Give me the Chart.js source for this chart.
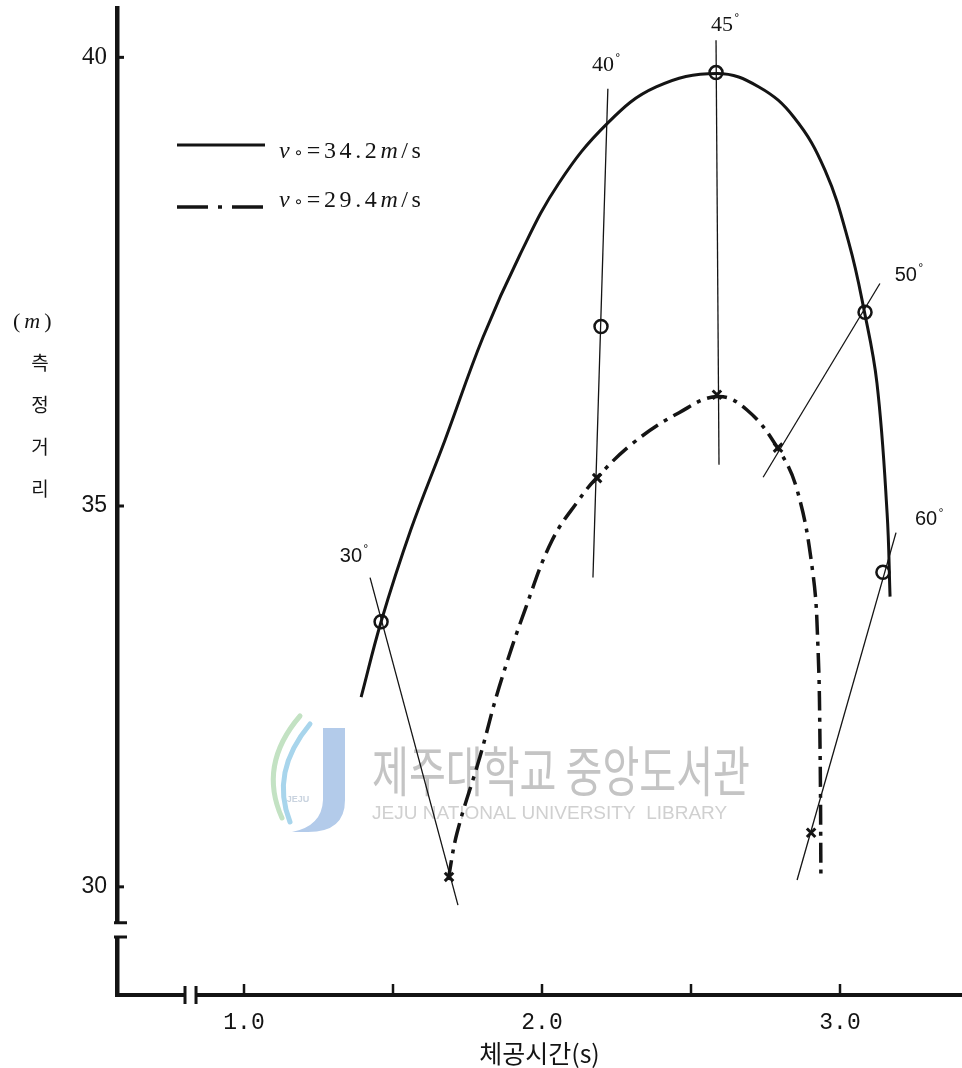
<!DOCTYPE html>
<html>
<head>
<meta charset="utf-8">
<script src="https://cdn.jsdelivr.net/npm/chart.js@4.4.1/dist/chart.umd.min.js"></script>
<style>
  html, body { margin: 0; padding: 0; background: #ffffff; }
  canvas { display: block; }
</style>
</head>
<body>
<canvas id="chart" width="962" height="1068"></canvas>
<script>
// ---------------- data ----------------
const timeAxisTicks = [1.0, 1.5, 2.0, 2.5, 3.0];
const timeTickLabels = ['1.0', '', '2.0', '', '3.0'];
const distanceTicks = [30, 35, 40];
const distanceTickLabels = ['30', '35', '40'];
const xAxisTitle = '체공시간(s)';
const yAxisTitle = ['(m)', '측', '정', '거', '리'];
const seriesLabels = ['v∘=34.2m/s', 'v∘=29.4m/s'];
const launchAngles = ['30', '40', '45', '50', '60'];

// measured points (v0 = 34.2 m/s : circles)
const fastMeasuredTime = [1.46, 2.198, 2.584, 3.084, 3.144];
const fastMeasuredDist = [33.48, 37.00, 39.83, 37.16, 34.13];
// measured points (v0 = 29.4 m/s : crosses)
const slowMeasuredTime = [1.688, 2.185, 2.587, 2.792, 2.903];
const slowMeasuredDist = [30.13, 35.31, 36.24, 35.65, 30.71];

// drawn curves
const fastCurveTime = [1.393, 1.46, 1.56, 1.674, 1.802, 1.926, 2.057, 2.221, 2.383, 2.587, 2.728, 2.846, 2.95, 3.03, 3.081, 3.124, 3.158, 3.168];
const fastCurveDist = [32.49, 33.48, 34.69, 35.73, 36.88, 37.80, 38.60, 39.27, 39.67, 39.82, 39.67, 39.33, 38.74, 37.93, 37.18, 36.37, 34.91, 33.81];
const slowCurveTime = [1.685, 1.715, 1.792, 1.856, 1.946, 2.034, 2.124, 2.18, 2.305, 2.46, 2.59, 2.688, 2.79, 2.856, 2.909, 2.926, 2.933, 2.936];
const slowCurveDist = [30.09, 30.71, 31.71, 32.62, 33.67, 34.55, 35.07, 35.30, 35.70, 36.04, 36.22, 36.07, 35.65, 35.18, 34.12, 33.15, 31.84, 30.09];

// launch-angle guide lines (start / end)
const angleLineStartTime = [1.423, 2.221, 2.584, 3.134, 3.188];
const angleLineStartDist = [34.06, 39.65, 40.19, 37.48, 34.65];
const angleLineEndTime = [1.718, 2.171, 2.594, 2.742, 2.856];
const angleLineEndDist = [29.76, 34.06, 35.46, 35.32, 30.09];

// angle label anchors (data coordinates)
const angleLabelTime = [1.359, 2.205, 2.604, 3.221, 3.289];
const angleLabelDist = [34.34, 39.91, 40.36, 37.57, 34.82];

// axis ranges and breaks
const timeRange = [0.5738, 3.4094];
const distRange = [28.58, 40.55];
const timeAxisBreak = [0.802, 0.839];
const distAxisBreak = [29.34, 29.53];

// ---------------- hand-drawn (uneven) distance axis ----------------
const distKnot = 35;          // the printed 35-40 interval is drawn longer than 30-35
const distUpperStretch = 1.178;
function warpLen(v, min) {
  return v <= distKnot ? v - min : (distKnot - min) + (v - distKnot) * distUpperStretch;
}
function unwarpLen(L, min) {
  const k = distKnot - min;
  return L <= k ? min + L : distKnot + (L - k) / distUpperStretch;
}
class HandDrawnScale extends Chart.LinearScale {
  getPixelForValue(value) {
    if (value === null || value === undefined || isNaN(value)) return NaN;
    const total = warpLen(this.max, this.min);
    return this.getPixelForDecimal(warpLen(value, this.min) / total);
  }
  getValueForPixel(pixel) {
    const total = warpLen(this.max, this.min);
    return unwarpLen(this.getDecimalForPixel(pixel) * total, this.min);
  }
}
HandDrawnScale.id = 'handDrawn';
HandDrawnScale.defaults = Chart.LinearScale.defaults;
Chart.register(HandDrawnScale);

// ---------------- helpers ----------------
const ink = '#141414';
function pts(xs, ys) { return xs.map((x, i) => ({ x: x, y: ys[i] })); }

const angleLineSets = launchAngles.map((a, i) => ({
  label: 'angle ' + a,
  data: [
    { x: angleLineStartTime[i], y: angleLineStartDist[i] },
    { x: angleLineEndTime[i], y: angleLineEndDist[i] }
  ],
  showLine: true,
  borderColor: ink,
  borderWidth: 1.3,
  pointRadius: 0,
  tension: 0,
  order: 5
}));

function drawSeriesLabel(ctx, text, x, yMid) {
  let cx = x;
  ctx.textBaseline = 'middle';
  ctx.textAlign = 'left';
  for (const ch of text) {
    let dy = 0;
    if (ch === 'v' || ch === 'm') ctx.font = 'italic 24px "Liberation Serif"';
    else if (ch === '∘') { ctx.font = '16px "DejaVu Sans"'; dy = 2; }
    else ctx.font = '24px "Liberation Serif"';
    ctx.fillText(ch, cx, yMid + dy);
    cx += ctx.measureText(ch).width + 3.6;
  }
}

function drawWatermark(ctx) {
  ctx.save();
  ctx.lineCap = 'round';
  ctx.lineWidth = 5;
  ctx.strokeStyle = '#c3e2c3';
  ctx.beginPath(); ctx.moveTo(300, 716); ctx.quadraticCurveTo(258, 765, 282, 818); ctx.stroke();
  ctx.strokeStyle = '#a8d5ec';
  ctx.beginPath(); ctx.moveTo(310, 724); ctx.quadraticCurveTo(270, 772, 290, 822); ctx.stroke();
  ctx.fillStyle = '#b3cbea';
  ctx.beginPath();
  ctx.moveTo(323, 728); ctx.lineTo(345, 728); ctx.lineTo(345, 800);
  ctx.quadraticCurveTo(345, 832, 308, 832); ctx.lineTo(292, 832);
  ctx.quadraticCurveTo(322, 826, 323, 800); ctx.closePath(); ctx.fill();
  ctx.fillStyle = '#c9d3df';
  ctx.font = 'bold 9px "Liberation Sans"';
  ctx.textAlign = 'center'; ctx.textBaseline = 'middle';
  ctx.fillText('JEJU', 298, 800);
  ctx.textAlign = 'left'; ctx.textBaseline = 'alphabetic';
  ctx.fillStyle = '#c4c4c4';
  ctx.font = '54px "Noto Sans CJK KR"';
  ctx.fillText('제주대학교 중앙도서관', 372, 792, 378);
  ctx.fillStyle = '#d0d0d0';
  ctx.font = '19px "Liberation Sans"';
  ctx.fillText('JEJU NATIONAL UNIVERSITY  LIBRARY', 372, 819, 380);
  ctx.restore();
}

const decorPlugin = {
  id: 'decor',
  beforeDatasetsDraw(chart) {
    drawWatermark(chart.ctx);
  },
  afterDraw(chart) {
    const { ctx, chartArea, scales } = chart;
    const x = scales.x, y = scales.y;
    ctx.save();
    ctx.strokeStyle = ink;
    ctx.fillStyle = ink;
    ctx.lineCap = 'butt';

    // inward tick marks
    ctx.lineWidth = 2.5;
    timeAxisTicks.forEach(t => {
      const px = x.getPixelForValue(t);
      ctx.beginPath(); ctx.moveTo(px, chartArea.bottom); ctx.lineTo(px, chartArea.bottom - 11); ctx.stroke();
    });
    ctx.lineWidth = 3;
    distanceTicks.forEach(v => {
      const py = y.getPixelForValue(v);
      ctx.beginPath(); ctx.moveTo(chartArea.left, py); ctx.lineTo(chartArea.left + 7, py); ctx.stroke();
    });

    // axis breaks
    const yb0 = y.getPixelForValue(distAxisBreak[1]);
    const yb1 = y.getPixelForValue(distAxisBreak[0]);
    ctx.fillStyle = '#ffffff';
    ctx.fillRect(chartArea.left - 5, yb0 + 1, 10, yb1 - yb0 - 2);
    ctx.lineWidth = 3;
    ctx.beginPath();
    ctx.moveTo(chartArea.left - 3, yb0); ctx.lineTo(chartArea.left + 10, yb0);
    ctx.moveTo(chartArea.left - 3, yb1); ctx.lineTo(chartArea.left + 10, yb1);
    ctx.stroke();
    const xb0 = x.getPixelForValue(timeAxisBreak[0]);
    const xb1 = x.getPixelForValue(timeAxisBreak[1]);
    ctx.fillRect(xb0 + 1, chartArea.bottom - 5, xb1 - xb0 - 2, 10);
    ctx.lineWidth = 3;
    ctx.beginPath();
    ctx.moveTo(xb0, chartArea.bottom - 9); ctx.lineTo(xb0, chartArea.bottom + 9);
    ctx.moveTo(xb1, chartArea.bottom - 9); ctx.lineTo(xb1, chartArea.bottom + 9);
    ctx.stroke();

    // legend
    ctx.fillStyle = ink;
    ctx.lineWidth = 3;
    ctx.setLineDash([]);
    ctx.beginPath(); ctx.moveTo(177, 145); ctx.lineTo(265, 145); ctx.stroke();
    ctx.lineWidth = 3.5;
    ctx.setLineDash([31, 10, 4, 10]);
    ctx.beginPath(); ctx.moveTo(177, 207); ctx.lineTo(266, 207); ctx.stroke();
    ctx.setLineDash([]);
    drawSeriesLabel(ctx, seriesLabels[0], 279, 152);
    drawSeriesLabel(ctx, seriesLabels[1], 279, 201);

    // angle labels
    launchAngles.forEach((a, i) => {
      const px = x.getPixelForValue(angleLabelTime[i]);
      const py = y.getPixelForValue(angleLabelDist[i]);
      const serif = (i === 1 || i === 2);
      ctx.font = serif ? '22px "Liberation Serif"' : '20px "Liberation Sans"';
      ctx.textAlign = 'center';
      ctx.textBaseline = 'middle';
      ctx.fillText(a, px, py);
      const w = ctx.measureText(a).width;
      ctx.font = '11px "DejaVu Sans"';
      ctx.textAlign = 'left';
      ctx.fillText('°', px + w / 2 + 1, py - 7);
    });

    // vertical y-axis title
    ctx.textBaseline = 'middle';
    ctx.textAlign = 'left';
    const t0 = yAxisTitle[0];
    let cx = 13;
    for (const ch of t0) {
      ctx.font = ch === 'm' ? 'italic 22px "Liberation Serif"' : '22px "Liberation Serif"';
      ctx.fillText(ch, cx, 322);
      cx += ctx.measureText(ch).width + 4;
    }
    ctx.textAlign = 'center';
    ctx.font = '19px "Noto Sans CJK KR"';
    yAxisTitle.slice(1).forEach((ch, i) => {
      ctx.fillText(ch, 40, 363 + i * 42);
    });
    ctx.restore();
  }
};

// ---------------- chart ----------------
new Chart(document.getElementById('chart'), {
  type: 'scatter',
  data: {
    datasets: [
      {
        label: seriesLabels[0],
        data: pts(fastCurveTime, fastCurveDist),
        showLine: true,
        borderColor: ink,
        borderWidth: 3,
        pointRadius: 0,
        tension: 0.4,
        order: 3
      },
      {
        label: seriesLabels[1],
        data: pts(slowCurveTime, slowCurveDist),
        showLine: true,
        borderColor: ink,
        borderWidth: 3.5,
        borderDash: [20, 7, 4, 7],
        pointRadius: 0,
        tension: 0.4,
        order: 3
      },
      ...angleLineSets,
      {
        label: seriesLabels[0] + ' measured',
        data: pts(fastMeasuredTime, fastMeasuredDist),
        showLine: false,
        pointStyle: 'circle',
        pointRadius: 6.5,
        pointBorderWidth: 2.5,
        pointBorderColor: ink,
        pointBackgroundColor: 'rgba(0,0,0,0)',
        order: 1
      },
      {
        label: seriesLabels[1] + ' measured',
        data: pts(slowMeasuredTime, slowMeasuredDist),
        showLine: false,
        pointStyle: 'crossRot',
        pointRadius: 6,
        pointBorderWidth: 3,
        pointBorderColor: ink,
        pointBackgroundColor: ink,
        order: 1
      }
    ]
  },
  options: {
    responsive: false,
    animation: false,
    events: [],
    layout: { autoPadding: false, padding: { top: 8, left: 0, right: 0, bottom: 0 } },
    plugins: {
      legend: { display: false },
      tooltip: { enabled: false }
    },
    scales: {
      x: {
        type: 'linear',
        min: timeRange[0],
        max: timeRange[1],
        afterBuildTicks: s => { s.ticks = timeAxisTicks.map(v => ({ value: v })); },
        afterFit: s => { s.height = 73; s.paddingLeft = 0; s.paddingRight = 0; s.paddingTop = 0; s.paddingBottom = 0; },
        grid: { display: false, drawTicks: false },
        border: { display: true, width: 4, color: ink },
        ticks: {
          autoSkip: false,
          maxRotation: 0,
          padding: 14,
          color: ink,
          font: { family: '"Liberation Mono"', size: 23 },
          callback: (value, index) => timeTickLabels[index]
        },
        title: {
          display: true,
          text: xAxisTitle,
          color: ink,
          font: { family: '"Noto Sans CJK KR"', size: 25 },
          padding: { top: 0, bottom: 0 }
        }
      },
      y: {
        type: 'handDrawn',
        min: distRange[0],
        max: distRange[1],
        afterBuildTicks: s => { s.ticks = distanceTicks.map(v => ({ value: v })); },
        afterFit: s => { s.width = 117; s.paddingTop = 0; s.paddingBottom = 0; s.paddingLeft = 0; s.paddingRight = 0; },
        grid: { display: false, drawTicks: false },
        border: { display: true, width: 4.5, color: ink },
        ticks: {
          autoSkip: false,
          padding: 10,
          color: ink,
          font: c => (c.tick && c.tick.value === 40)
            ? { family: '"Liberation Serif"', size: 25 }
            : { family: '"Liberation Sans"', size: 23 },
          callback: (value) => distanceTickLabels[distanceTicks.indexOf(value)]
        }
      }
    }
  },
  plugins: [decorPlugin]
});
</script>
</body>
</html>
